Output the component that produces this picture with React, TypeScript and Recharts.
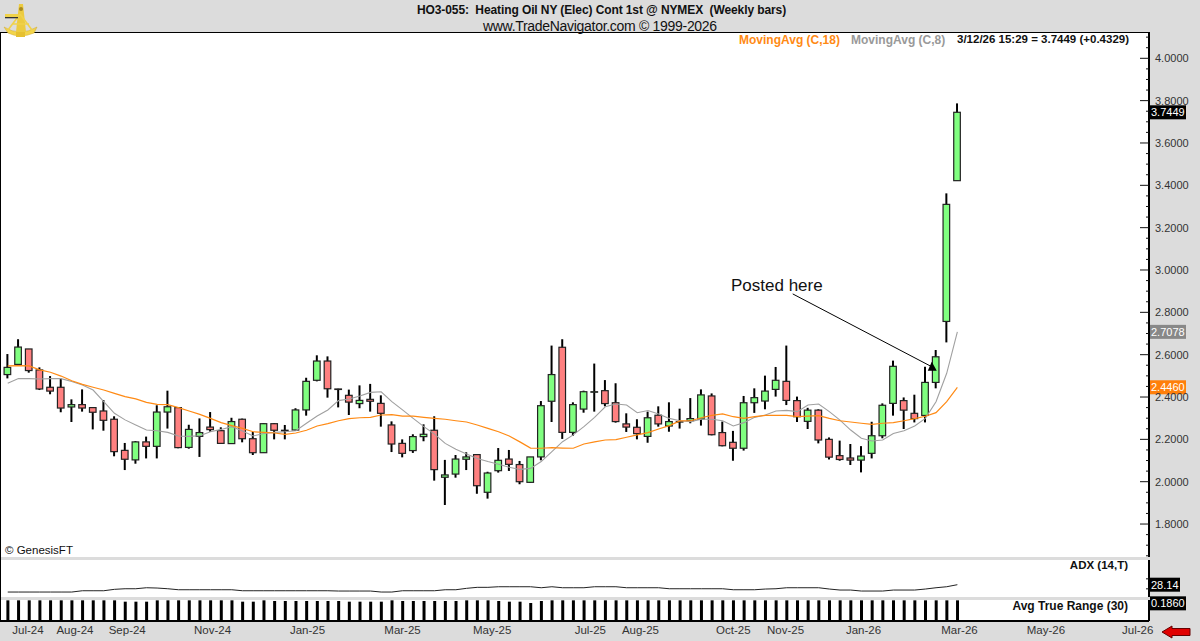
import {
  Bar,
  ComposedChart,
  Line,
  ReferenceDot,
  ReferenceLine,
  XAxis,
  YAxis,
} from "recharts";

const opens = [
  2.506, 2.554, 2.627, 2.528, 2.446, 2.446, 2.353, 2.364, 2.35, 2.334,
  2.295, 2.148, 2.103, 2.188, 2.167, 2.329, 2.35, 2.162, 2.214, 2.258,
  2.241, 2.18, 2.295, 2.203, 2.137, 2.274, 2.243, 2.244, 2.339, 2.479,
  2.57, 2.438, 2.408, 2.369, 2.389, 2.37, 2.268, 2.181, 2.147, 2.213,
  2.243, 2.021, 2.036, 2.106, 2.128, 1.95, 2.052, 2.107, 2.081, 1.997,
  2.117, 2.38, 2.635, 2.233, 2.343, 2.424, 2.43, 2.373, 2.273, 2.257,
  2.214, 2.314, 2.263, 2.282, 2.288, 2.296, 2.405, 2.232, 2.186, 2.158,
  2.373, 2.381, 2.436, 2.474, 2.383, 2.285, 2.338, 2.2, 2.123, 2.112,
  2.102, 2.134, 2.217, 2.37, 2.383, 2.323, 2.313, 2.469, 2.757, 3.422,
];
const closes = [
  2.54, 2.636, 2.525, 2.438, 2.428, 2.348, 2.364, 2.348, 2.328, 2.29,
  2.142, 2.106, 2.188, 2.167, 2.329, 2.354, 2.161, 2.247, 2.232, 2.246,
  2.181, 2.284, 2.203, 2.137, 2.274, 2.243, 2.24, 2.339, 2.474, 2.57,
  2.439, 2.436, 2.376, 2.384, 2.38, 2.323, 2.178, 2.134, 2.213, 2.224,
  2.057, 2.032, 2.107, 2.117, 1.981, 2.041, 2.101, 2.082, 2.0, 2.117,
  2.359, 2.506, 2.233, 2.364, 2.425, 2.425, 2.369, 2.284, 2.258, 2.227,
  2.302, 2.273, 2.284, 2.284, 2.298, 2.41, 2.222, 2.17, 2.158, 2.373,
  2.397, 2.428, 2.479, 2.384, 2.307, 2.338, 2.197, 2.116, 2.105, 2.102,
  2.121, 2.217, 2.361, 2.545, 2.338, 2.298, 2.469, 2.59, 3.31, 3.745,
];
const highs = [
  2.603, 2.673, 2.627, 2.54, 2.499, 2.488, 2.389, 2.436, 2.351, 2.386,
  2.309, 2.183, 2.192, 2.213, 2.361, 2.43, 2.351, 2.269, 2.299, 2.329,
  2.257, 2.302, 2.298, 2.235, 2.277, 2.277, 2.268, 2.347, 2.491, 2.597,
  2.592, 2.439, 2.435, 2.455, 2.462, 2.408, 2.285, 2.2, 2.224, 2.271,
  2.309, 2.103, 2.126, 2.139, 2.129, 2.047, 2.159, 2.15, 2.098, 2.117,
  2.381, 2.643, 2.673, 2.375, 2.43, 2.558, 2.48, 2.465, 2.323, 2.295,
  2.331, 2.356, 2.375, 2.345, 2.395, 2.436, 2.417, 2.284, 2.24, 2.405,
  2.441, 2.501, 2.542, 2.643, 2.402, 2.349, 2.342, 2.209, 2.194, 2.178,
  2.168, 2.283, 2.37, 2.572, 2.398, 2.411, 2.543, 2.622, 3.362, 3.787,
];
const lows = [
  2.488, 2.554, 2.515, 2.433, 2.413, 2.328, 2.282, 2.331, 2.247, 2.241,
  2.12, 2.055, 2.085, 2.11, 2.11, 2.251, 2.158, 2.156, 2.117, 2.236,
  2.18, 2.178, 2.186, 2.126, 2.137, 2.2, 2.2, 2.241, 2.312, 2.474,
  2.397, 2.351, 2.315, 2.347, 2.331, 2.26, 2.14, 2.115, 2.136, 2.191,
  2.005, 1.89, 2.019, 2.055, 1.943, 1.92, 2.043, 2.051, 1.988, 1.995,
  2.101, 2.282, 2.202, 2.217, 2.326, 2.331, 2.356, 2.279, 2.235, 2.2,
  2.184, 2.26, 2.236, 2.251, 2.276, 2.265, 2.219, 2.167, 2.099, 2.147,
  2.325, 2.342, 2.402, 2.362, 2.282, 2.249, 2.181, 2.105, 2.099, 2.079,
  2.044, 2.11, 2.205, 2.312, 2.249, 2.28, 2.28, 2.441, 2.658, 3.422,
];
const ma18 = [
  2.547, 2.548, 2.547, 2.528, 2.517, 2.499, 2.477, 2.46, 2.446, 2.433,
  2.417, 2.402, 2.391, 2.375, 2.365, 2.364, 2.35, 2.334, 2.318, 2.299,
  2.279, 2.265, 2.252, 2.236, 2.233, 2.23, 2.224, 2.23, 2.243, 2.263,
  2.274, 2.288, 2.298, 2.302, 2.304, 2.315, 2.317, 2.31, 2.31, 2.304,
  2.299, 2.295, 2.288, 2.282, 2.268, 2.252, 2.236, 2.216, 2.188, 2.159,
  2.158, 2.161, 2.159, 2.158, 2.178, 2.188, 2.197, 2.199, 2.21, 2.221,
  2.232, 2.249, 2.265, 2.287, 2.288, 2.302, 2.313, 2.32, 2.307, 2.299,
  2.307, 2.313, 2.313, 2.313, 2.307, 2.31, 2.312, 2.299, 2.288, 2.282,
  2.276, 2.271, 2.276, 2.279, 2.288, 2.298, 2.309, 2.326, 2.378, 2.446,
];
const ma8 = [
  2.465, 2.487, 2.487, 2.485, 2.487, 2.487, 2.473, 2.457, 2.433, 2.378,
  2.323, 2.292, 2.268, 2.244, 2.241, 2.233, 2.216, 2.214, 2.217, 2.236,
  2.247, 2.26, 2.24, 2.216, 2.228, 2.233, 2.236, 2.241, 2.276, 2.31,
  2.339, 2.383, 2.391, 2.405, 2.422, 2.425, 2.378, 2.339, 2.299, 2.26,
  2.225, 2.181, 2.153, 2.131, 2.11, 2.095, 2.082, 2.068, 2.058, 2.063,
  2.095, 2.142, 2.189, 2.221, 2.26, 2.304, 2.354, 2.367, 2.362, 2.326,
  2.336, 2.32, 2.299, 2.288, 2.284, 2.295, 2.295, 2.288, 2.263, 2.279,
  2.304, 2.315, 2.334, 2.337, 2.331, 2.362, 2.367, 2.331, 2.291, 2.244,
  2.205, 2.192, 2.197, 2.228, 2.241, 2.263, 2.299, 2.378, 2.512, 2.708,
];
const adx = [
  20.8, 20.8, 20.8, 20.8, 20.8, 20.8, 20.8, 22.1, 22.1, 22.1,
  23.5, 24.1, 24.1, 25.1, 24.8, 24.1, 23.1, 23.1, 23.1, 23.1,
  23.1, 23.1, 22.1, 22.1, 22.1, 22.1, 22.1, 22.1, 22.1, 22.1,
  22.1, 21.8, 21.8, 21.8, 21.8, 20.8, 20.8, 22.1, 22.1, 22.1,
  22.1, 23.1, 23.1, 24.5, 25.5, 25.5, 26.1, 26.1, 26.1, 26.1,
  25.1, 26.1, 25.1, 25.1, 25.1, 26.1, 26.1, 26.1, 25.1, 25.1,
  25.1, 25.1, 24.1, 24.1, 24.1, 24.1, 24.1, 24.1, 23.1, 23.1,
  23.1, 23.8, 24.1, 25.1, 25.1, 25.1, 25.1, 23.8, 22.8, 22.8,
  21.8, 21.8, 21.8, 22.8, 22.8, 22.8, 23.8, 25.1, 26.1, 28.14,
];
const atr = [
  0.186, 0.186, 0.186, 0.186, 0.186, 0.186, 0.186, 0.186, 0.186, 0.186,
  0.186, 0.174, 0.174, 0.174, 0.186, 0.186, 0.186, 0.186, 0.186, 0.186,
  0.186, 0.186, 0.174, 0.174, 0.186, 0.18, 0.18, 0.18, 0.18, 0.18,
  0.18, 0.18, 0.174, 0.174, 0.174, 0.174, 0.186, 0.18, 0.18, 0.18,
  0.18, 0.18, 0.18, 0.186, 0.186, 0.186, 0.18, 0.174, 0.174, 0.162,
  0.18, 0.186, 0.186, 0.186, 0.186, 0.186, 0.186, 0.186, 0.186, 0.186,
  0.186, 0.186, 0.186, 0.186, 0.186, 0.186, 0.186, 0.186, 0.186, 0.186,
  0.186, 0.186, 0.186, 0.186, 0.186, 0.186, 0.186, 0.186, 0.186, 0.186,
  0.186, 0.186, 0.186, 0.186, 0.186, 0.186, 0.186, 0.186, 0.186, 0.186,
];

const dateLabels = [
  "Jul-24", "Aug-24", "Sep-24", "Nov-24", "Jan-25", "Mar-25", "May-25", "Jul-25",
  "Aug-25", "Oct-25", "Nov-25", "Jan-26", "Mar-26", "May-26", "Jul-26",
];
const dateTicks = [1.9, 6.3, 11.2, 19.2, 28.1, 37, 45.4, 54.6, 59.3, 68, 72.9, 80.2, 89.2, 97.3, 105.9];
const priceTicks = [
  1.65, 1.7, 1.75, 1.8, 1.85, 1.9, 1.95, 2.0, 2.05, 2.1, 2.15, 2.2, 2.25, 2.3, 2.35, 2.4,
  2.45, 2.5, 2.55, 2.6, 2.65, 2.7, 2.75, 2.8, 2.85, 2.9, 2.95, 3.0, 3.05, 3.1, 3.15, 3.2,
  3.25, 3.3, 3.35, 3.4, 3.45, 3.5, 3.55, 3.6, 3.65, 3.7, 3.75, 3.8, 3.85, 3.9, 3.95, 4.0,
  4.05, 4.1,
];
const priceLabels = [1.8, 2.0, 2.2, 2.4, 2.6, 2.8, 3.0, 3.2, 3.4, 3.6, 3.8, 4.0];
const adxTicks = [24, 34];

const rows = opens.map((open, i) => ({
  i,
  open,
  close: closes[i],
  high: highs[i],
  low: lows[i],
  range: [lows[i], highs[i]],
  ma18: ma18[i],
  ma8: ma8[i],
  adx: adx[i],
  atr: atr[i],
}));

const X_DOMAIN: [number, number] = [-0.63, 106.96];
const FONT = "'Liberation Sans', Arial, sans-serif";
const PANEL = "#dcdcdc";

function Candle(props: any) {
  const { x, y, width, height, payload } = props;
  const cx = x + width / 2;
  const perUnit = height / (payload.high - payload.low);
  const top = y + (payload.high - Math.max(payload.open, payload.close)) * perUnit;
  const bottom = y + (payload.high - Math.min(payload.open, payload.close)) * perUnit;
  const up = payload.close >= payload.open;
  return (
    <g>
      <line x1={cx} x2={cx} y1={y} y2={y + height} stroke="#000" strokeWidth={2} />
      <rect
        x={cx - 3.3}
        y={top}
        width={6.6}
        height={Math.max(bottom - top, 0.5)}
        fill={up ? "#80ff80" : "#ff8080"}
        stroke="#222"
        strokeWidth={1.2}
      />
    </g>
  );
}

function PriceTick(props: any) {
  const { x, y, payload } = props;
  const major = priceLabels.includes(payload.value);
  return (
    <g>
      <line x1={x - (major ? 9 : 3)} x2={x} y1={y} y2={y} stroke="#111" strokeWidth={1} />
      {major && (
        <text x={x + 6} y={y + 4} fontSize={11} fontFamily={FONT} fill="#333">
          {payload.value.toFixed(4)}
        </text>
      )}
    </g>
  );
}

function AdxTick(props: any) {
  const { x, y } = props;
  return <line x1={x - 3} x2={x} y1={y} y2={y} stroke="#111" strokeWidth={1} />;
}

function tag(text: string, bg: string, w: number, dy = 0) {
  return (props: any) => (
    <g>
      <rect x={props.cx + 1} y={props.cy - 7 + dy} width={w} height={14} fill={bg} />
      <text
        x={props.cx + 2}
        y={props.cy + 4 + dy}
        fontSize={11}
        fontFamily={FONT}
        fill="#fff"
      >
        {text}
      </text>
    </g>
  );
}

function ArrowHead(props: any) {
  const { cx, cy } = props;
  return <polygon points={`${cx - 4},${cy + 4} ${cx + 5},${cy + 4} ${cx},${cy - 5}`} fill="#000" />;
}

function Sextant() {
  return (
    <svg
      width={38}
      height={38}
      style={{ position: "absolute", left: 2, top: 2, zIndex: 2 }}
      viewBox="0 0 38 38"
    >
      <path d="M2 25 Q18 35 35 25 L32 31 Q18 37 6 31 Z" fill="#f2d44a" stroke="#d0a828" strokeWidth={0.5} />
      <rect x={14} y={29} width={9} height={6} fill="#e6c030" />
      <path d="M17 2 L21 2 L24 30 L14 30 Z" fill="#eccb40" />
      <path d="M18 12 L6 28 M18 12 L30 28 M10 22 L27 22" stroke="#f0d24a" strokeWidth={1.6} fill="none" />
      <rect x={3} y={12} width={13} height={3} fill="#f0d24a" />
      <rect x={3} y={15} width={13} height={1.3} fill="#333" />
      <circle cx={19} cy={7} r={2} fill="#a88a20" />
    </svg>
  );
}

function Txt(props: { left?: number; right?: number; top: number; size: number; bold?: boolean; color?: string; spacing?: number; children: string }) {
  const { left, right, top, size, bold, color, spacing, children } = props;
  return (
    <div
      style={{
        position: "absolute",
        left,
        right,
        top,
        fontSize: size,
        fontWeight: bold ? 700 : 400,
        color: color ?? "#111",
        letterSpacing: spacing,
        whiteSpace: "pre",
        lineHeight: 1,
      }}
    >
      {children}
    </div>
  );
}

function Pane({ top, height }: { top: number; height: number }) {
  return <div style={{ position: "absolute", left: 1, top, width: 1148, height, background: "#fff" }} />;
}

export default function App() {
  return (
    <div
      style={{
        position: "absolute",
        left: 0,
        top: 0,
        width: 1200,
        height: 641,
        overflow: "hidden",
        background: PANEL,
        fontFamily: FONT,
      }}
    >
      <Pane top={33} height={524} />
      <Pane top={560} height={37} />
      <Pane top={600} height={21} />
      <div style={{ position: "absolute", left: 0, top: 32, width: 1150, height: 1, background: "#000" }} />
      <div style={{ position: "absolute", left: 0, top: 32, width: 1, height: 590, background: "#000" }} />

      <ComposedChart
        width={1200}
        height={524}
        data={rows}
        margin={{ top: 0, right: 0, bottom: 0, left: 1 }}
        style={{ position: "absolute", left: 0, top: 33 }}
      >
        <XAxis type="number" dataKey="i" domain={X_DOMAIN} allowDataOverflow hide />
        <YAxis
          orientation="right"
          width={51}
          domain={[1.6443, 4.1195]}
          allowDataOverflow
          ticks={priceTicks}
          interval={0}
          tick={PriceTick}
          tickLine={false}
          tickSize={0}
          tickMargin={0}
          axisLine={{ stroke: "#000", strokeWidth: 2 }}
        />
        <Bar dataKey="range" barSize={8} shape={Candle} isAnimationActive={false} />
        <Line dataKey="ma8" stroke="#a0a0a0" strokeWidth={1.1} dot={false} isAnimationActive={false} />
        <Line dataKey="ma18" stroke="#ff8a14" strokeWidth={1.2} dot={false} isAnimationActive={false} />
        <ReferenceLine
          segment={[
            { x: 73.57, y: 2.887 },
            { x: 86.6, y: 2.543 },
          ]}
          stroke="#000"
          strokeWidth={1}
        />
        <ReferenceDot x={86.6} y={2.543} shape={ArrowHead} />
        <ReferenceDot x={106.96} y={3.7449} shape={tag("3.7449", "#000", 36)} ifOverflow="visible" />
        <ReferenceDot x={106.96} y={2.7078} shape={tag("2.7078", "#888", 36)} ifOverflow="visible" />
        <ReferenceDot x={106.96} y={2.446} shape={tag("2.4460", "#ff7f0a", 36)} ifOverflow="visible" />
      </ComposedChart>

      <ComposedChart
        width={1200}
        height={37}
        data={rows}
        margin={{ top: 0, right: 0, bottom: 0, left: 1 }}
        style={{ position: "absolute", left: 0, top: 560 }}
      >
        <XAxis type="number" dataKey="i" domain={X_DOMAIN} allowDataOverflow hide />
        <YAxis
          orientation="right"
          width={51}
          domain={[15.84, 52.84]}
          allowDataOverflow
          ticks={adxTicks}
          interval={0}
          tick={AdxTick}
          tickLine={false}
          tickSize={0}
          tickMargin={0}
          axisLine={{ stroke: "#000", strokeWidth: 2 }}
        />
        <Line dataKey="adx" stroke="#222" strokeWidth={1} dot={false} isAnimationActive={false} />
        <ReferenceDot x={106.96} y={28.14} shape={tag("28.14", "#000", 30)} ifOverflow="visible" />
      </ComposedChart>

      <ComposedChart
        width={1200}
        height={51}
        data={rows}
        margin={{ top: 10, right: 0, bottom: 0, left: 1 }}
        style={{ position: "absolute", left: 0, top: 590 }}
      >
        <XAxis
          type="number"
          dataKey="i"
          domain={X_DOMAIN}
          allowDataOverflow
          height={20}
          ticks={dateTicks}
          interval={0}
          tickFormatter={(v: number) => dateLabels[dateTicks.indexOf(v)]}
          tick={{ fontSize: 11.5, fontFamily: FONT, fill: "#333" }}
          tickLine={false}
          tickSize={0}
          tickMargin={5}
          axisLine={{ stroke: "#000", strokeWidth: 2 }}
        />
        <YAxis
          orientation="right"
          width={51}
          domain={[0, 0.189]}
          allowDataOverflow
          tick={false}
          tickLine={false}
          axisLine={{ stroke: "#000", strokeWidth: 2 }}
        />
        <Bar dataKey="atr" barSize={3} fill="#000" isAnimationActive={false} />
        <ReferenceDot x={106.96} y={0.186} shape={tag("0.1860", "#000", 36, 3)} ifOverflow="visible" />
      </ComposedChart>

      <Sextant />
      <Txt left={417} top={4} size={12} bold spacing={-0.1}>{"HO3-055:  Heating Oil NY (Elec) Cont 1st @ NYMEX  (Weekly bars)"}</Txt>
      <Txt left={483} top={19} size={14} spacing={-0.3}>{"www.TradeNavigator.com © 1999-2026"}</Txt>
      <Txt left={739} top={34} size={12} bold color="#ff8a14">{"MovingAvg (C,18)"}</Txt>
      <Txt left={851} top={34} size={12} bold color="#999">{"MovingAvg (C,8)"}</Txt>
      <Txt left={957} top={34} size={11.5} bold>{"3/12/26 15:29 = 3.7449 (+0.4329)"}</Txt>
      <Txt left={731} top={277} size={17}>{"Posted here"}</Txt>
      <Txt left={5} top={545} size={11.5}>{"© GenesisFT"}</Txt>
      <Txt right={72} top={560} size={11.5} bold>{"ADX (14,T)"}</Txt>
      <Txt right={72} top={600} size={12} bold>{"Avg True Range (30)"}</Txt>

      <svg width={32} height={16} style={{ position: "absolute", left: 1160, top: 624 }}>
        <polygon points="2,8 12,2 12,4.5 30,4.5 30,11.5 12,11.5 12,14" fill="#e00000" stroke="#600" strokeWidth={1} />
      </svg>
    </div>
  );
}
